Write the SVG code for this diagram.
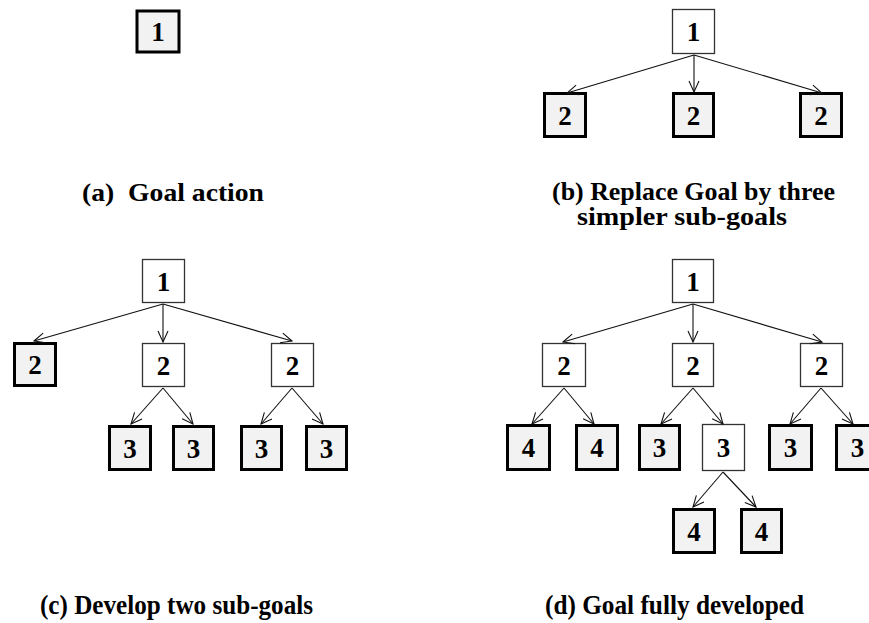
<svg xmlns="http://www.w3.org/2000/svg" width="869" height="623" viewBox="0 0 869 623">
  <style>
    .leaf rect { fill: #f2f2f2; stroke: #000; stroke-width: 3; }
    .inner rect { fill: #fff; stroke: #333; stroke-width: 1.3; }
    .num { font-family: "Liberation Serif", "Times New Roman", serif; font-weight: bold; font-size: 27px; text-anchor: middle; fill: #000; }
    .cap { font-family: "Liberation Serif", "Times New Roman", serif; font-weight: bold; font-size: 25px; fill: #000; }
    .capc { font-family: "Liberation Serif", "Times New Roman", serif; font-weight: bold; font-size: 28px; fill: #000; }
    #edges line { stroke: #111; stroke-width: 1.1; marker-end: url(#arr); }
  </style>
  <defs>
    <marker id="arr" markerUnits="userSpaceOnUse" markerWidth="14" markerHeight="14" refX="0" refY="0" viewBox="-12 -7 14 14" orient="auto">
      <path d="M-11,-5 L0,0 L-11,5" fill="none" stroke="#111" stroke-width="1.1"/>
    </marker>
  </defs>
  <rect width="869" height="623" fill="#fff"/>

  <!-- (a) single goal -->
  <g id="a1" class="leaf"><rect x="137" y="11" width="42" height="41"/><text class="num" x="158" y="41">1</text></g>

  <!-- (b) goal with three sub-goals -->
  <g id="b1" class="inner"><rect x="672.5" y="9.5" width="42" height="44"/><text class="num" x="693.5" y="41">1</text></g>
  <g id="b2a" class="leaf"><rect x="544.5" y="93.5" width="41" height="43"/><text class="num" x="565" y="125">2</text></g>
  <g id="b2b" class="leaf"><rect x="673.5" y="93.5" width="40" height="43"/><text class="num" x="693.5" y="125">2</text></g>
  <g id="b2c" class="leaf"><rect x="800.5" y="93.5" width="41" height="43"/><text class="num" x="821" y="125">2</text></g>

  <!-- (c) two sub-goals developed -->
  <g id="c1" class="inner"><rect x="142.5" y="259.5" width="42" height="43"/><text class="num" x="163.5" y="291">1</text></g>
  <g id="c2a" class="leaf"><rect x="14.5" y="343.5" width="41" height="42"/><text class="num" x="35" y="374">2</text></g>
  <g id="c2b" class="inner"><rect x="142.5" y="343.5" width="42" height="43"/><text class="num" x="163.5" y="375">2</text></g>
  <g id="c2c" class="inner"><rect x="271.5" y="343.5" width="42" height="43"/><text class="num" x="292.5" y="375">2</text></g>
  <g id="c3a" class="leaf"><rect x="109.5" y="426.5" width="41" height="43"/><text class="num" x="130" y="458">3</text></g>
  <g id="c3b" class="leaf"><rect x="173.5" y="426.5" width="40" height="43"/><text class="num" x="193.5" y="458">3</text></g>
  <g id="c3c" class="leaf"><rect x="241.5" y="426.5" width="40" height="43"/><text class="num" x="261.5" y="458">3</text></g>
  <g id="c3d" class="leaf"><rect x="306.5" y="426.5" width="40" height="43"/><text class="num" x="326.5" y="458">3</text></g>

  <!-- (d) fully developed goal -->
  <g id="d1" class="inner"><rect x="672.5" y="259.5" width="41" height="43"/><text class="num" x="693" y="291">1</text></g>
  <g id="d2a" class="inner"><rect x="542.5" y="343.5" width="43" height="43"/><text class="num" x="564" y="375">2</text></g>
  <g id="d2b" class="inner"><rect x="672.5" y="343.5" width="41" height="43"/><text class="num" x="693" y="375">2</text></g>
  <g id="d2c" class="inner"><rect x="800.5" y="343.5" width="42" height="43"/><text class="num" x="821.5" y="375">2</text></g>
  <g id="d3a" class="leaf"><rect x="507.5" y="425.5" width="42" height="44"/><text class="num" x="528.5" y="457">4</text></g>
  <g id="d3b" class="leaf"><rect x="576.5" y="425.5" width="41" height="44"/><text class="num" x="597" y="457">4</text></g>
  <g id="d3c" class="leaf"><rect x="639.5" y="425.5" width="40" height="44"/><text class="num" x="659.5" y="457">3</text></g>
  <g id="d3d" class="inner"><rect x="702.5" y="424.5" width="42" height="46"/><text class="num" x="723.5" y="457">3</text></g>
  <g id="d3e" class="leaf"><rect x="769.5" y="425.5" width="42" height="44"/><text class="num" x="790.5" y="457">3</text></g>
  <g id="d3f" class="leaf"><rect x="836.5" y="425.5" width="42" height="44"/><text class="num" x="857.5" y="457">3</text></g>
  <g id="d4a" class="leaf"><rect x="673.5" y="509.5" width="41" height="43"/><text class="num" x="694" y="541">4</text></g>
  <g id="d4b" class="leaf"><rect x="741.5" y="509.5" width="40" height="43"/><text class="num" x="761.5" y="541">4</text></g>

  <g id="edges">
    <!-- (b) -->
    <line x1="694" y1="55" x2="567" y2="93"/>
    <line x1="694" y1="55" x2="694" y2="92"/>
    <line x1="694" y1="55" x2="822" y2="93"/>
    <!-- (c) -->
    <line x1="163" y1="304" x2="34" y2="341"/>
    <line x1="163" y1="304" x2="163" y2="342"/>
    <line x1="163" y1="304" x2="292" y2="341"/>
    <line x1="163" y1="388" x2="131" y2="424"/>
    <line x1="163" y1="388" x2="193" y2="424"/>
    <line x1="292" y1="388" x2="261" y2="424"/>
    <line x1="292" y1="388" x2="323" y2="424"/>
    <!-- (d) -->
    <line x1="693" y1="304" x2="563" y2="342"/>
    <line x1="693" y1="304" x2="693" y2="342"/>
    <line x1="693" y1="304" x2="822" y2="342"/>
    <line x1="564" y1="388" x2="532" y2="424"/>
    <line x1="564" y1="388" x2="594" y2="424"/>
    <line x1="693" y1="388" x2="661" y2="424"/>
    <line x1="693" y1="388" x2="723" y2="424"/>
    <line x1="821" y1="388" x2="790" y2="424"/>
    <line x1="821" y1="388" x2="853" y2="424"/>
    <line x1="723" y1="472" x2="693" y2="507"/>
    <line x1="723" y1="472" x2="756" y2="507"/>
  </g>

  <!-- captions -->
  <text class="cap" x="82" y="201" textLength="182" lengthAdjust="spacingAndGlyphs" xml:space="preserve">(a)  Goal action</text>
  <text class="cap" x="552" y="200" textLength="283" lengthAdjust="spacingAndGlyphs">(b) Replace Goal by three</text>
  <text class="cap" x="577" y="225" textLength="210" lengthAdjust="spacingAndGlyphs">simpler sub-goals</text>
  <text class="capc" x="40" y="614" textLength="273" lengthAdjust="spacingAndGlyphs">(c) Develop two sub-goals</text>
  <text class="capc" x="545" y="614" textLength="259" lengthAdjust="spacingAndGlyphs">(d) Goal fully developed</text>
</svg>
